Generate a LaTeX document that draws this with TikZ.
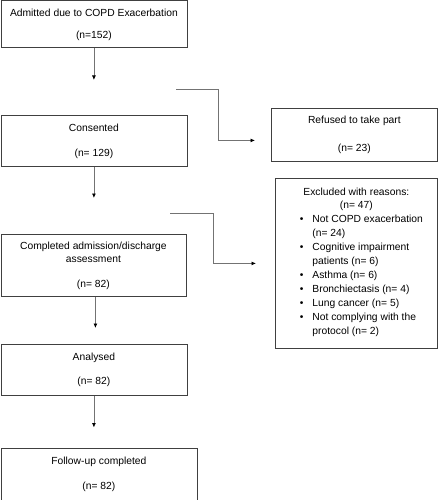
\documentclass[tikz,border=0pt]{standalone}
\usepackage{fontspec}
\setmainfont{Liberation Sans}
\usetikzlibrary{arrows.meta}
\begin{document}
\begin{tikzpicture}[x=1pt, y=-1pt,
    box/.style={draw=black!75, line width=0.8pt, anchor=north west, inner sep=0pt,
      align=center, font=\fontsize{10.3}{14}\selectfont},
    flow/.style={draw=black!55, line width=0.8pt, -{Latex[length=4.5pt, width=4pt, color=black]}}]
  \useasboundingbox (0,0) rectangle (439,500);
  % main column
  \node[box, minimum width=186, minimum height=47] (admit) at (0.5,0.5)
    {Admitted due to COPD Exacerbation\\[8pt](n=152)};
  \node[box, minimum width=186, minimum height=51] (consent) at (0.5,115)
    {Consented\\[11pt](n= 129)};
  \node[box, minimum width=185, minimum height=62] (complete) at (0.5,234)
    {Completed admission/discharge\\[-1pt]assessment\\[11pt](n= 82)};
  \node[box, minimum width=186, minimum height=51] (analysed) at (0.5,344)
    {Analysed\\[10pt](n= 82)};
  \node[box, minimum width=196, minimum height=52] (follow) at (0.5,447.5)
    {Follow-up completed\\[11pt](n= 82)};
  % side boxes
  \node[box, minimum width=166, minimum height=53] (refused) at (271,108)
    {Refused to take part\\[14pt](n= 23)};
  \node[box, minimum width=162, minimum height=170] (excluded) at (275,178)
    {Excluded with reasons:\\[-1pt](n= 47)\\
     \begin{tabular}[t]{@{\hspace{10pt}}l@{\hspace{9pt}}l@{}}
       • & Not COPD exacerbation\\
         & (n= 24)\\
       • & Cognitive impairment\\
         & patients (n= 6)\\
       • & Asthma (n= 6)\\
       • & Bronchiectasis (n= 4)\\
       • & Lung cancer (n= 5)\\
       • & Not complying with the\\
         & protocol (n= 2)
     \end{tabular}};
  % arrows down
  \draw[flow, shorten >=35pt] (admit.south) -- (admit.south |- consent.north);
  \draw[flow, shorten >=36pt] (consent.south) -- (consent.south |- complete.north);
  \draw[flow, shorten >=16pt] ([xshift=2pt]complete.south) -- ([xshift=2pt]complete.south |- analysed.north);
  \draw[flow, shorten >=20pt] (analysed.south) -- (analysed.south |- follow.north);
  % arrows to the side
  \coordinate (split1) at (176,89);
  \coordinate (split2) at (170,213);
  \draw[flow] (split1) -- ++(42,0) |- ([shift={(-16,5.5)}]refused.west);
  \draw[flow] (split2) -- ++(43,0) |- ([shift={(-19,0)}]excluded.west);
\end{tikzpicture}
\end{document}
